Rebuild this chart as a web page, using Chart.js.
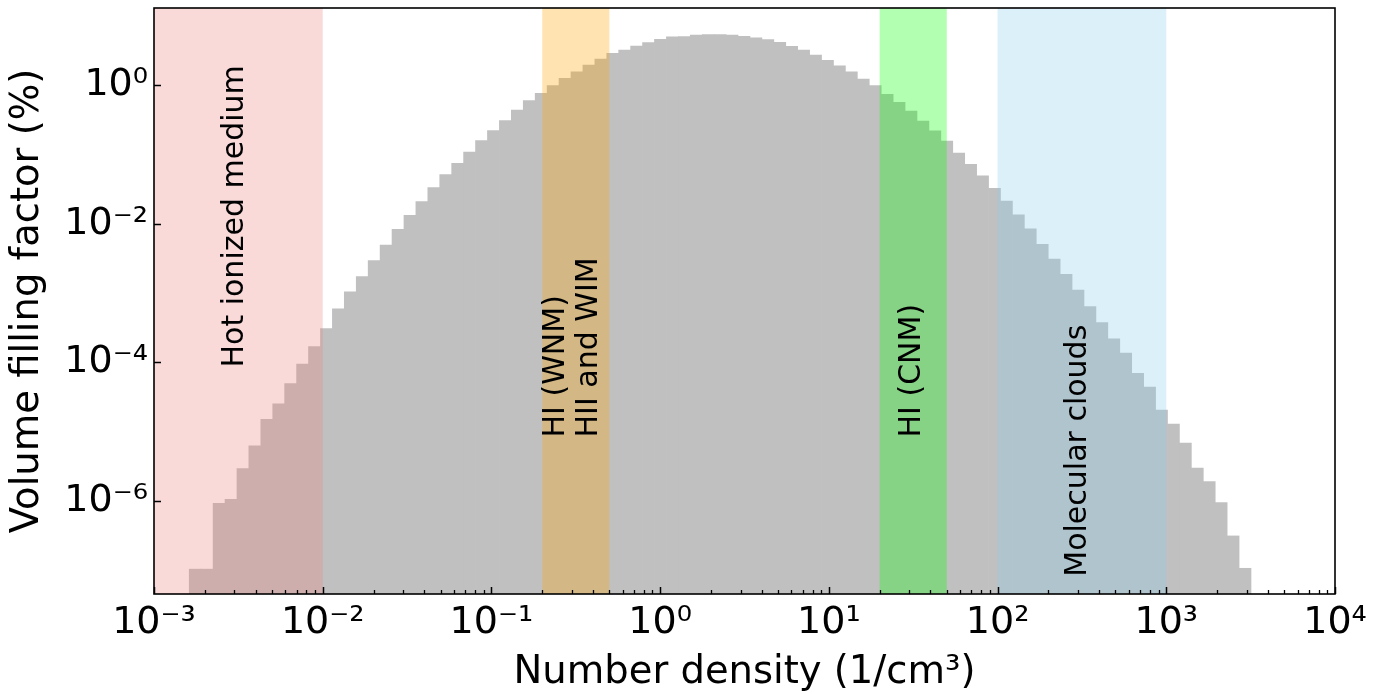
<!DOCTYPE html>
<html><head><meta charset="utf-8">
<script src="https://cdn.jsdelivr.net/npm/chart.js@4.4.1/dist/chart.umd.min.js"></script>
<style>html,body{margin:0;padding:0;background:#fff;}#wrap{width:1384px;height:694px;}</style>
</head><body><div id="wrap"><canvas id="c" width="1384" height="694"></canvas></div>
<script>
// Histogram bins: equal width in log10(density)
const binCount = 89;
const binLogMin = -2.791;
const binLogMax = 3.502;
// Volume filling factor (%) per bin
const fillingFactor = [
  1.04e-7, 1.04e-7, 9.3e-7, 1.06e-6, 2.95e-6, 6.3e-6, 1.52e-5, 2.53e-5, 5.0e-5, 9.5e-5,
  1.70e-4, 3.10e-4, 6.0e-4, 1.05e-3, 1.75e-3, 2.97e-3, 5.0e-3, 8.4e-3, 1.34e-2, 2.11e-2,
  3.37e-2, 5.19e-2, 7.57e-2, 0.110, 0.161, 0.224, 0.312, 0.446, 0.607, 0.776,
  1.00, 1.28, 1.59, 1.99, 2.43, 2.94, 3.28, 3.74, 4.18, 4.68,
  5.08, 5.12, 5.40, 5.45, 5.45, 5.40, 5.17, 4.93, 4.62, 4.23,
  3.71, 3.28, 2.77, 2.33, 1.94, 1.59, 1.25, 1.00, 0.751, 0.576,
  0.431, 0.309, 0.222, 0.159, 0.106, 0.0733, 0.0497, 0.0330, 0.0216, 0.0136,
  8.53e-3, 5.13e-3, 3.14e-3, 1.89e-3, 1.12e-3, 6.44e-4, 3.78e-4, 2.20e-4, 1.37e-4, 7.03e-5,
  4.42e-5, 2.07e-5, 1.29e-5, 6.86e-6, 2.99e-6, 1.91e-6, 9.51e-7, 3.14e-7, 1.07e-7
];
const xTickPowers = [-3, -2, -1, 0, 1, 2, 3, 4];
const yTickPowers = [-6, -4, -2, 0];
// ISM phase bands (density ranges)
const bandStart = [1e-3, 0.2, 20, 100];
const bandEnd = [1e-2, 0.5, 50, 1000];
const bandColor = ['rgba(240,128,128,0.3)', 'rgba(255,165,0,0.3)', 'rgba(0,255,0,0.3)', 'rgba(135,206,235,0.3)'];
// Annotations: lines of text and their anchor (start of text) in data coordinates
const noteLines = [['Hot ionized medium'], ['HI (WNM)', 'HII and WIM'], ['HI (CNM)'], ['Molecular clouds']];
const noteX = [3.02e-3, 0.2415, 31.1, 300];
const noteY = [8.4e-5, 8.2e-6, 8.2e-6, 8.0e-8];

const binWidth = (binLogMax - binLogMin) / binCount;
const binCenters = fillingFactor.map((_, i) => Math.pow(10, binLogMin + (i + 0.5) * binWidth));

const supMap = {'-': '\u207B', '0': '\u2070', '1': '\u00B9', '2': '\u00B2', '3': '\u00B3', '4': '\u2074', '5': '\u2075', '6': '\u2076', '7': '\u2077', '8': '\u2078', '9': '\u2079'};
function powLabel(v) {
  const p = Math.round(Math.log10(v));
  return '10' + String(p).split('').map(c => supMap[c]).join('');
}

const FONT = 'DejaVu Sans';

const overlayPlugin = {
  id: 'overlay',
  afterDatasetsDraw(chart) {
    const {ctx, chartArea: a, scales: {x, y}} = chart;
    ctx.save();
    ctx.beginPath();
    ctx.rect(a.left, a.top, a.right - a.left, a.bottom - a.top);
    ctx.clip();
    for (let i = 0; i < bandStart.length; i++) {
      const x0 = x.getPixelForValue(bandStart[i]);
      const x1 = x.getPixelForValue(bandEnd[i]);
      ctx.fillStyle = bandColor[i];
      ctx.fillRect(x0, a.top, x1 - x0, a.bottom - a.top);
    }
    ctx.restore();

    // annotations
    ctx.save();
    ctx.fillStyle = '#000';
    ctx.font = '30px "' + FONT + '"';
    ctx.textAlign = 'left';
    ctx.textBaseline = 'middle';
    for (let i = 0; i < noteLines.length; i++) {
      const px = x.getPixelForValue(noteX[i]);
      const py = y.getPixelForValue(noteY[i]);
      ctx.save();
      ctx.translate(px, py);
      ctx.rotate(-Math.PI / 2);
      noteLines[i].forEach((t, k) => ctx.fillText(t, 0, k * 33));
      ctx.restore();
    }
    ctx.restore();

    // ticks (inward) and spines
    ctx.save();
    ctx.strokeStyle = '#000';
    ctx.lineWidth = 1.3;
    for (let p = xTickPowers[0]; p < xTickPowers[xTickPowers.length - 1]; p++) {
      for (let k = 2; k <= 9; k++) {
        const px = Math.round(x.getPixelForValue(k * Math.pow(10, p))) + 0.5;
        ctx.beginPath(); ctx.moveTo(px, a.bottom); ctx.lineTo(px, a.bottom - 4); ctx.stroke();
      }
    }
    ctx.lineWidth = 1.5;
    xTickPowers.forEach(p => {
      const px = Math.round(x.getPixelForValue(Math.pow(10, p))) + 0.5;
      ctx.beginPath(); ctx.moveTo(px, a.bottom); ctx.lineTo(px, a.bottom - 7); ctx.stroke();
    });
    yTickPowers.forEach(p => {
      const py = Math.round(y.getPixelForValue(Math.pow(10, p))) + 0.5;
      ctx.beginPath(); ctx.moveTo(a.left, py); ctx.lineTo(a.left + 7, py); ctx.stroke();
    });
    ctx.lineWidth = 1.6;
    ctx.strokeRect(a.left, a.top, a.right - a.left, a.bottom - a.top);
    ctx.restore();
  }
};

new Chart(document.getElementById('c'), {
  type: 'bar',
  data: {
    datasets: [{
      data: binCenters.map((c, i) => ({x: c, y: fillingFactor[i]})),
      backgroundColor: '#c0c0c0',
      borderWidth: 0,
      barPercentage: 1.06,
      categoryPercentage: 1.0
    }]
  },
  options: {
    responsive: false,
    animation: false,
    devicePixelRatio: 1,
    events: [],
    layout: {padding: {left: 0, right: 49, top: 8, bottom: 0}},
    plugins: {legend: {display: false}, tooltip: {enabled: false}},
    scales: {
      x: {
        type: 'logarithmic', min: 1e-3, max: 1e4, offset: false,
        grid: {display: false, drawTicks: false},
        border: {display: false},
        afterBuildTicks: s => { s.ticks = xTickPowers.map(p => ({value: Math.pow(10, p)})); },
        afterFit: s => { s.height = 100; s.paddingLeft = 0; s.paddingRight = 0; },
        ticks: {autoSkip: false, maxRotation: 0, minRotation: 0, padding: 6, color: '#000',
          font: {family: FONT, size: 38}, callback: v => powLabel(v)},
        title: {display: true, text: 'Number density (1/cm\u00B3)', color: '#000',
          font: {family: FONT, size: 38.5}, padding: {top: 0, bottom: -2}}
      },
      y: {
        type: 'logarithmic', min: 4.5e-8, max: 13.1,
        grid: {display: false, drawTicks: false},
        border: {display: false},
        afterBuildTicks: s => { s.ticks = yTickPowers.map(p => ({value: Math.pow(10, p)})); },
        afterFit: s => { s.width = 154; s.paddingTop = 0; s.paddingBottom = 0; },
        ticks: {autoSkip: false, padding: 6, color: '#000',
          font: {family: FONT, size: 38}, callback: v => powLabel(v)},
        title: {display: true, text: 'Volume filling factor (%)', color: '#000',
          font: {family: FONT, size: 38.5}, padding: {top: 5, bottom: 0}}
      }
    }
  },
  plugins: [overlayPlugin]
});
</script>
</body></html>
